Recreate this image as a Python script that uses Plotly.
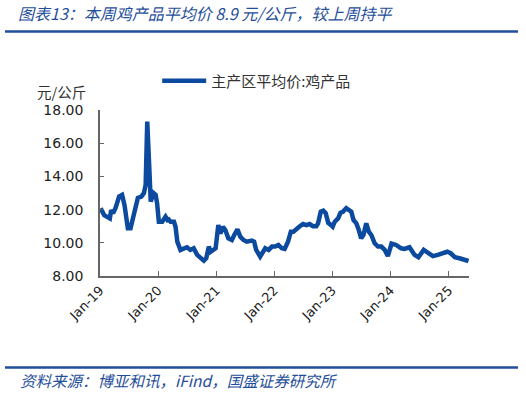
import plotly.graph_objects as go

# ---- data ----
dates = [
    "2019-01-05", "2019-01-27", "2019-03-04", "2019-03-12", "2019-03-24", "2019-04-09",
    "2019-05-01", "2019-05-20", "2019-06-04", "2019-06-25", "2019-07-12", "2019-07-28",
    "2019-08-12", "2019-08-27", "2019-09-18", "2019-10-04", "2019-10-15", "2019-10-25",
    "2019-11-06", "2019-11-16", "2019-12-03", "2019-12-17", "2019-12-26",
    "2020-01-06", "2020-01-27", "2020-02-17", "2020-03-01", "2020-03-08", "2020-03-20",
    "2020-04-10", "2020-04-20", "2020-05-01", "2020-05-21", "2020-06-10", "2020-07-01",
    "2020-07-22", "2020-08-12", "2020-09-03", "2020-09-24", "2020-10-15", "2020-10-30",
    "2020-11-15", "2020-11-27", "2020-12-10", "2020-12-28",
    "2021-01-14", "2021-01-27", "2021-02-12", "2021-02-27", "2021-03-18", "2021-04-09",
    "2021-04-24", "2021-05-14", "2021-06-01", "2021-06-21", "2021-07-12", "2021-08-12",
    "2021-08-27", "2021-09-09", "2021-10-04", "2021-10-20", "2021-11-05", "2021-11-26",
    "2021-12-17",
    "2022-01-06", "2022-01-27", "2022-02-17", "2022-03-07", "2022-03-28", "2022-04-15",
    "2022-05-01", "2022-05-20", "2022-06-10", "2022-07-01", "2022-07-21", "2022-08-11",
    "2022-09-01", "2022-09-22", "2022-10-03", "2022-10-20", "2022-11-05", "2022-11-20",
    "2022-12-06", "2022-12-23",
    "2023-01-03", "2023-01-16", "2023-02-06", "2023-02-21", "2023-03-08", "2023-03-29",
    "2023-04-15", "2023-04-30", "2023-05-14", "2023-06-01", "2023-06-16", "2023-07-01",
    "2023-07-15", "2023-08-02", "2023-08-18", "2023-09-03", "2023-09-24", "2023-10-15",
    "2023-11-05", "2023-11-26", "2023-12-16",
    "2024-01-08", "2024-02-06", "2024-03-08", "2024-03-29", "2024-04-30", "2024-06-01",
    "2024-06-25", "2024-07-28", "2024-08-24", "2024-09-24", "2024-10-25", "2024-11-27",
    "2024-12-23",
    "2025-01-14", "2025-02-09", "2025-03-10", "2025-04-11", "2025-05-06",
]
prices = [
    12.08, 11.67, 11.47, 11.97, 11.78, 12.10,
    12.78, 12.88, 12.28, 10.87, 10.87, 11.50,
    12.10, 12.70, 12.78, 13.00, 13.48, 17.30,
    14.70, 12.48, 13.00, 12.88, 12.38,
    11.27, 11.27, 11.57, 11.37, 11.40, 11.27,
    11.27, 10.97, 10.07, 9.57, 9.67, 9.73,
    9.57, 9.67, 9.27, 9.07, 8.92, 9.07,
    9.77, 9.46, 9.57, 9.67,
    11.07, 10.57, 10.97, 10.77, 10.27, 10.17,
    10.47, 10.81, 10.37, 10.17, 10.07, 10.13,
    10.07, 9.57, 9.17, 9.46, 9.67, 9.57,
    9.77,
    9.77, 9.87, 9.67, 9.63, 10.07, 10.67,
    10.67, 10.87, 11.00, 11.13, 11.07, 11.13,
    11.00, 11.00, 11.17, 11.87, 11.93, 11.78,
    11.20, 11.07,
    10.97, 11.27, 11.47, 11.81, 11.87, 12.08,
    11.97, 11.87, 11.37, 11.17, 10.77, 10.27,
    10.47, 11.17, 10.67, 10.47, 9.97, 9.77,
    9.77, 9.57, 9.20,
    9.95, 9.87, 9.67, 9.63, 9.73, 9.27,
    9.13, 9.57, 9.40, 9.20, 9.27, 9.37,
    9.46,
    9.37, 9.13, 9.07, 9.00, 8.90,
]
series_name = "主产区平均价:鸡产品"
tick_dates = ["2019-01-01", "2020-01-01", "2021-01-01", "2022-01-01",
              "2023-01-01", "2024-01-01", "2025-01-01"]
tick_labels = ["Jan-19", "Jan-20", "Jan-21", "Jan-22", "Jan-23", "Jan-24", "Jan-25"]
y_ticks = [8, 10, 12, 14, 16, 18]

title_text = "图表13：本周鸡产品平均价 8.9 元/公斤，较上周持平"
source_text = "资料来源：博亚和讯，iFind，国盛证券研究所"
unit_text = "元/公斤"

BLUE = "#0b4a9e"
NAVY = "#1f4e9a"
AXIS = "#666666"
CJK = "Noto Sans CJK SC"

fig = go.Figure()
fig.add_trace(go.Scatter(
    x=dates, y=prices, mode="lines", name=series_name,
    line=dict(color=BLUE, width=4.5),
))

fig.update_layout(
    width=526, height=393,
    margin=dict(l=100, r=57, t=110, b=117),
    paper_bgcolor="white", plot_bgcolor="white",
    font=dict(family="DejaVu Sans", color="#222"),
    showlegend=True,
    legend=dict(
        orientation="h", x=0.155, y=1.175, xanchor="left", yanchor="middle",
        font=dict(family=CJK, size=15, color="#333"),
        bgcolor="rgba(0,0,0,0)", itemwidth=44,
    ),
    xaxis=dict(
        type="date", range=["2019-01-01", "2025-05-09"],
        tickmode="array", tickvals=tick_dates, ticktext=tick_labels,
        tickangle=-45, ticks="inside", ticklen=5, tickcolor=AXIS,
        showline=True, linecolor=AXIS, linewidth=1.5,
        showgrid=False, zeroline=False,
        tickfont=dict(family="DejaVu Sans", size=13, color="#222"),
    ),
    yaxis=dict(
        range=[8, 18], tickmode="array", tickvals=y_ticks,
        tickformat=".2f", ticks="inside", ticklen=4, tickcolor=AXIS,
        showline=True, linecolor=AXIS, linewidth=1.5,
        showgrid=False, zeroline=False, ticklabelstandoff=12,
        tickfont=dict(family="DejaVu Sans", size=14, color="#222"),
    ),
    title=dict(
        text=title_text, x=18 / 526, xanchor="left", xref="container",
        y=1 - 14 / 393, yanchor="middle", yref="container",
        font=dict(family=CJK, size=16, color=NAVY, style="italic"),
    ),
)

# header / footer rules
fig.add_shape(type="line", xref="paper", yref="paper",
              x0=(5 - 100) / 369, x1=(518 - 100) / 369,
              y0=1 + (110 - 31.5) / 166, y1=1 + (110 - 31.5) / 166,
              line=dict(color=NAVY, width=2.5))
fig.add_shape(type="line", xref="paper", yref="paper",
              x0=(5 - 100) / 369, x1=(518 - 100) / 369,
              y0=(276 - 367.5) / 166, y1=(276 - 367.5) / 166,
              line=dict(color=NAVY, width=2.5))

fig.add_annotation(text=source_text, xref="paper", yref="paper",
                   x=(18 - 100) / 369, y=(276 - 380) / 166,
                   xanchor="left", yanchor="middle", showarrow=False,
                   font=dict(family=CJK, size=15.5, color=NAVY, style="italic"))
fig.add_annotation(text=unit_text, xref="paper", yref="paper",
                   x=(61 - 100) / 369, y=1 + (110 - 91.5) / 166,
                   xanchor="center", yanchor="middle", showarrow=False,
                   font=dict(family=CJK, size=14.5, color="#333"))

fig.write_html("out.html",
               config={"displayModeBar": False},
               post_script="document.body.style.margin='0';"
                           "document.body.style.padding='0';"
                           "document.body.style.overflow='hidden';")
